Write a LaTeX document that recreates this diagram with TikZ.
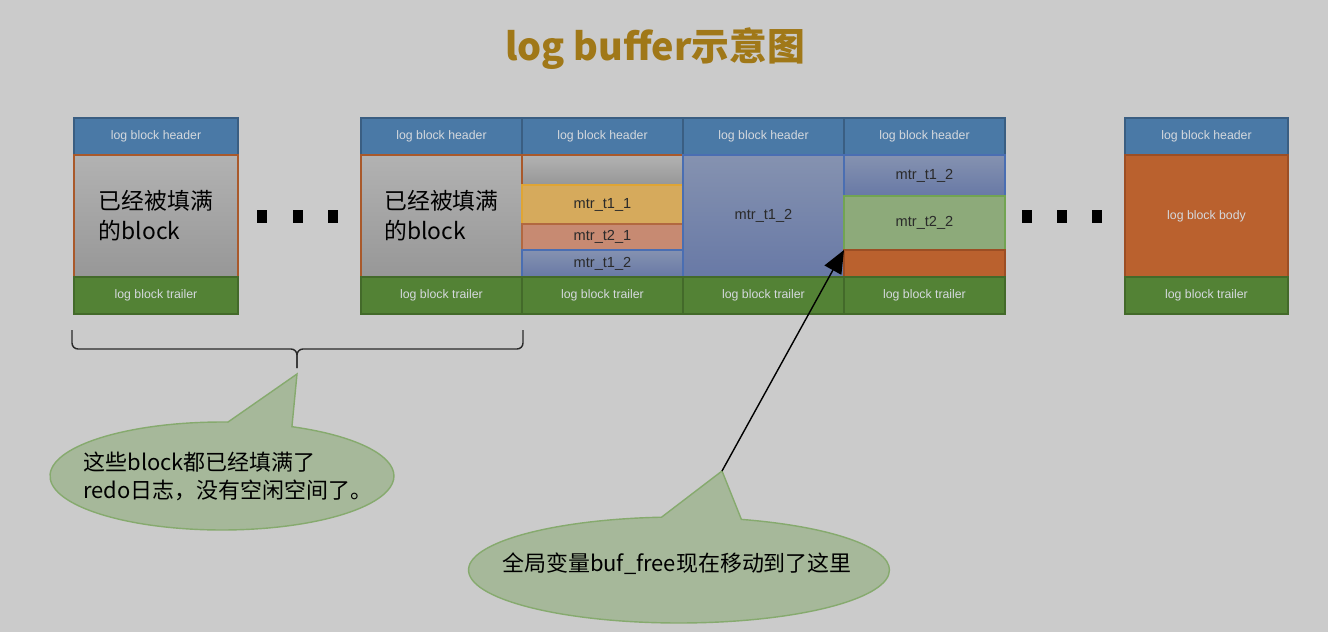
\documentclass[tikz,border=0pt]{standalone}
\usepackage{fontspec}
\setsansfont{Liberation Sans}
\newfontfamily\cjk{Noto Sans CJK SC}
\usetikzlibrary{arrows.meta, positioning, shapes.geometric, shapes.callouts}
\definecolor{cbg}{HTML}{CBCBCB}
\definecolor{chdr}{HTML}{4A79A6}
\definecolor{chdrd}{HTML}{3A5E82}
\definecolor{ctrl}{HTML}{538235}
\definecolor{ctrld}{HTML}{436A2A}
\definecolor{cgreyt}{HTML}{B2B2B2}
\definecolor{cgreyb}{HTML}{979797}
\definecolor{cbrd}{HTML}{A9592B}
\definecolor{cyel}{HTML}{D6AA5C}
\definecolor{cyeld}{HTML}{E0A534}
\definecolor{csal}{HTML}{C78A72}
\definecolor{cblut}{HTML}{8592B0}
\definecolor{cblub}{HTML}{6879A6}
\definecolor{cblud}{HTML}{4A6EB2}
\definecolor{cgrn}{HTML}{8DAA7A}
\definecolor{cgrnd}{HTML}{72A452}
\definecolor{corg}{HTML}{BA612E}
\definecolor{corgd}{HTML}{9C4E24}
\definecolor{ctitle}{HTML}{A07818}
\definecolor{ccall}{HTML}{A6B89A}
\definecolor{ccalld}{HTML}{86AA6E}
\definecolor{clabel}{HTML}{D5D9DE}
\definecolor{ctext}{HTML}{2A2A2A}
\tikzset{
  every picture/.style={line width=0.8pt},
  part/.style={inner sep=0pt, outer sep=0pt, align=center},
  hdr/.style={part, draw=chdrd, fill=chdr, line width=1.6pt, text=clabel, font=\sffamily\fontsize{7}{8}\selectfont},
  trl/.style={part, draw=ctrld, fill=ctrl, line width=1.6pt, text=clabel, font=\sffamily\fontsize{7}{8}\selectfont},
  full/.style={part, draw=cbrd, line width=1pt, top color=cgreyt, bottom color=cgreyb, align=left, font=\cjk\fontsize{13}{17}\selectfont},
  mtr/.style={part, draw=#1, line width=0.8pt, text=ctext, font=\sffamily\fontsize{8.3}{9}\selectfont},
  blu/.style={mtr=cblud, top color=cblut, bottom color=cblub},
  dot/.style={fill=black, inner sep=0pt, minimum width=0.2cm, minimum height=0.26cm},
  bubble/.style={ellipse callout, fill=ccall, draw=ccalld, line width=0.8pt, inner sep=0pt, callout pointer arc=22},
  note/.style={align=left, inner sep=0pt, font=\cjk\fontsize{12.5}{16}\selectfont},
  brace/.style={draw=ctext, line width=0.8pt, rounded corners=0.12cm},
  ptr/.style={-{Triangle[length=4.6mm, width=3.8mm]}, draw=black, line width=0.8pt},
}
\newcommand{\logcell}[7]{\node[#6, minimum width={(#4-#2)*0.02cm}, minimum height={(#5-#3)*0.02cm}] (#1) at ({(#2+#4)/2},{(#3+#5)/2}) {#7};}
\begin{document}
\begin{tikzpicture}[x=0.02cm, y=-0.02cm]
  \fill[cbg] (0,0) rectangle (1328,632);
  \useasboundingbox (0,0) rectangle (1328,632);
  \node[text=ctitle, font=\cjk\bfseries\fontsize{21.5}{24}\selectfont] (title) at (655,49) {log buffer示意图};
  % first full block
  \logcell{b1h}{74}{118}{238}{155}{hdr}{log block header}
  \logcell{b1b}{74}{155}{238}{277}{full}{已经被填满\\的block}
  \logcell{b1t}{74}{277}{238}{314}{trl}{log block trailer}
  \node[dot] (d1) at (262,216) {};
  \node[dot] (d2) at (298,216) {};
  \node[dot] (d3) at (333,216) {};
  % four blocks in a row
  \logcell{c1h}{361}{118}{522}{155}{hdr}{log block header}
  \logcell{c1b}{361}{155}{522}{277}{full}{已经被填满\\的block}
  \logcell{c1t}{361}{277}{522}{314}{trl}{log block trailer}
  \logcell{c2h}{522}{118}{683}{155}{hdr}{log block header}
  \logcell{c2g}{522}{155}{683}{185}{full}{}
  \logcell{c2y}{522}{185}{683}{224}{mtr=cyeld, fill=cyel}{mtr\_t1\_1}
  \logcell{c2r}{522}{224}{683}{250}{mtr=cbrd!70!csal, fill=csal}{mtr\_t2\_1}
  \logcell{c2u}{522}{250}{683}{277}{blu}{mtr\_t1\_2}
  \logcell{c2t}{522}{277}{683}{314}{trl}{log block trailer}
  \logcell{c3h}{683}{118}{844}{155}{hdr}{log block header}
  \logcell{c3u}{683}{155}{844}{277}{blu}{mtr\_t1\_2}
  \logcell{c3t}{683}{277}{844}{314}{trl}{log block trailer}
  \logcell{c4h}{844}{118}{1005}{155}{hdr}{log block header}
  \logcell{c4u}{844}{155}{1005}{196}{blu}{mtr\_t1\_2}
  \logcell{c4g}{844}{196}{1005}{250}{mtr=cgrnd, fill=cgrn}{mtr\_t2\_2}
  \logcell{c4o}{844}{250}{1005}{277}{mtr=corgd, fill=corg}{}
  \logcell{c4t}{844}{277}{1005}{314}{trl}{log block trailer}
  \node[dot] (e1) at (1027,216) {};
  \node[dot] (e2) at (1062,216) {};
  \node[dot] (e3) at (1097,216) {};
  % empty block at the end
  \logcell{lh}{1125}{118}{1288}{155}{hdr}{log block header}
  \logcell{lb}{1125}{155}{1288}{277}{mtr=corgd, fill=corg, line width=1.4pt, text=clabel, font=\sffamily\fontsize{7}{8}\selectfont}{log block body}
  \logcell{lt}{1125}{277}{1288}{314}{trl}{log block trailer}
  % brace and notes
  \coordinate (brL) at (72,330);
  \coordinate (brR) at (523,330);
  \coordinate (brM) at (297,349);
  \coordinate (brT) at (297,368);
  \draw[brace] (brL) |- (brM) -- (brT);
  \draw[brace] (brR) |- (brM) -- (brT);
  \coordinate (tip1) at (297,374);
  \node[bubble, minimum width=6.88cm, minimum height=2.16cm, callout absolute pointer={(tip1)}] (full) at (222,476) {};
  \node[note] (fulltxt) at (228,476) {这些block都已经填满了\\redo日志，没有空闲空间了。};
  \coordinate (tip2) at (722,471);
  \node[bubble, minimum width=8.42cm, minimum height=2.12cm, callout absolute pointer={(tip2)}] (free) at (679,570) {};
  \node[note] (freetxt) at (677,564) {全局变量buf\_free现在移动到了这里};
  \draw[ptr] (tip2) -- (c4o.north west);
\end{tikzpicture}
\end{document}
